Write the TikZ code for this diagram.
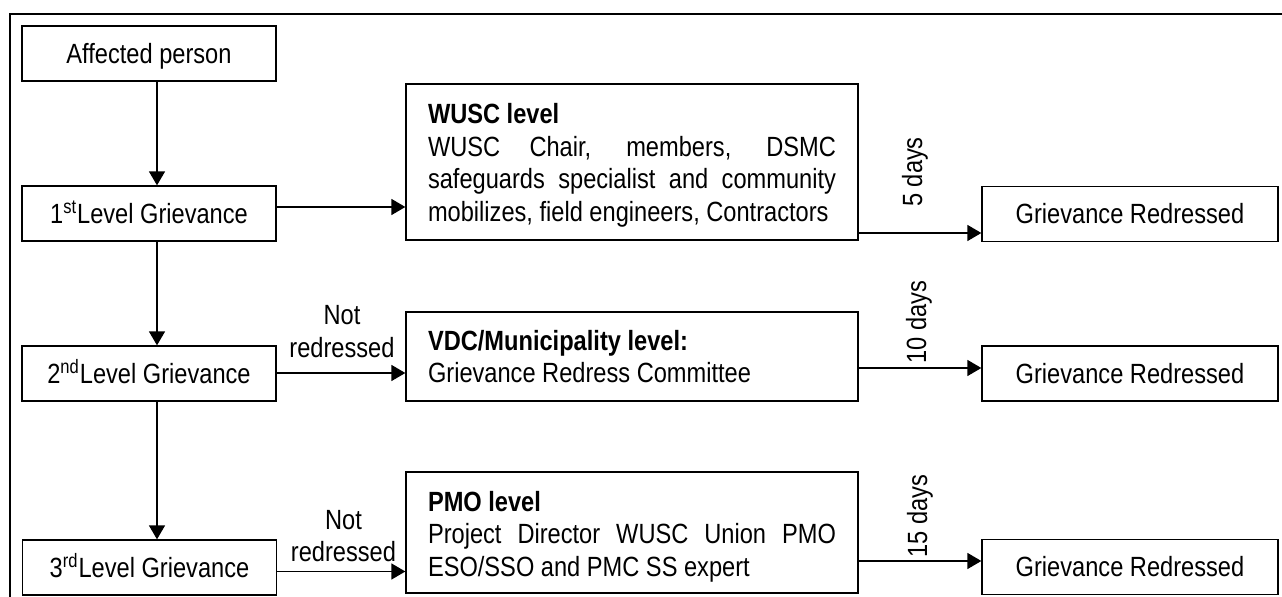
\documentclass[tikz,border=0pt]{standalone}
\usepackage{fontspec}
\setmainfont{Liberation Sans}[FakeStretch=0.85]
\usetikzlibrary{arrows.meta}

\begin{document}
\begin{tikzpicture}[x=0.5pt, y=-0.5pt,
  >={Triangle[length=7pt,width=8pt]},
  every node/.style={font=\fontsize{13.9}{16.25}\selectfont},
  stepbox/.style={draw, line width=0.65pt, minimum width=127pt, minimum height=27.5pt, inner sep=0pt, text height=10pt, text depth=0pt},
  donebox/.style={draw, line width=0.65pt, minimum width=148pt, minimum height=27.5pt, inner sep=0pt, text height=10pt, text depth=0pt},
  levelbox/.style={draw, line width=0.65pt, text width=204pt, inner xsep=11pt, inner ysep=0pt, align=justify},
  link/.style={->, line width=0.75pt}]
  \useasboundingbox (0,0) rectangle (1282,597);
  % outer frame (cut off at right and bottom)
  \draw[line width=1pt] (1282,14) -- (10,14) -- (10,597);

  % grievance steps
  \node[stepbox] (aff) at (149,53.5) {Affected person};
  \node[stepbox] (lv1) at (149,213.5) {1\textsuperscript{st}Level Grievance};
  \node[stepbox] (lv2) at (149,373.5) {2\textsuperscript{nd}Level Grievance};
  \node[stepbox] (lv3) at (149.5,567.5) {3\textsuperscript{rd}Level Grievance};

  % redress levels
  \node[levelbox, minimum height=78pt] (wusc) at (632,162) {\rule{0pt}{13.5pt}\textbf{WUSC level}\\
    WUSC Chair, members, DSMC\linebreak safeguards specialist and community\linebreak mobilizes, field engineers, Contractors};
  \node[levelbox, minimum height=44.5pt] (vdc) at (632,356.5) {\textbf{VDC/Municipality level:}\\
    Grievance Redress Committee};
  \node[levelbox, minimum height=60.5pt] (pmo) at (632,532.5) {\rule{0pt}{14pt}\textbf{PMO level}\\
    Project Director WUSC Union PMO\linebreak ESO/SSO and PMC SS expert};

  \node[donebox] (gr1) at (1130,214) {Grievance Redressed};
  \node[donebox] (gr2) at (1130,373.5) {Grievance Redressed};
  \node[donebox] (gr3) at (1130,567) {Grievance Redressed};

  \node[rotate=90] (d5) at (915,172) {5 days};
  \node[rotate=90] (d10) at (919,322) {10 days};
  \node[rotate=90] (d15) at (920,516) {15 days};
  \node[align=center] (nr2) at (342,331.5) {Not\\redressed};
  \node[align=center] (nr3) at (343.5,536) {Not\\redressed};

  \draw[link] (aff.south -| 157,0) -- (lv1.north -| 157,0);
  \draw[link] (lv1.south -| 157,0) -- (lv2.north -| 157,0);
  \draw[link] (lv2.south -| 157,0) -- (lv3.north -| 157,0);
  \draw[link] (lv1.east |- 0,207) -- (wusc.west |- 0,207);
  \draw[link] (lv2.east |- 0,373) -- (vdc.west |- 0,373);
  \draw[link] (lv3.east |- 0,571.5) -- (pmo.west |- 0,571.5);
  \draw[link] (wusc.east |- 0,233) -- (gr1.west |- 0,233);
  \draw[link] (vdc.east |- 0,368) -- (gr2.west |- 0,368);
  \draw[link] (pmo.east |- 0,561) -- (gr3.west |- 0,561);
\end{tikzpicture}
\end{document}
